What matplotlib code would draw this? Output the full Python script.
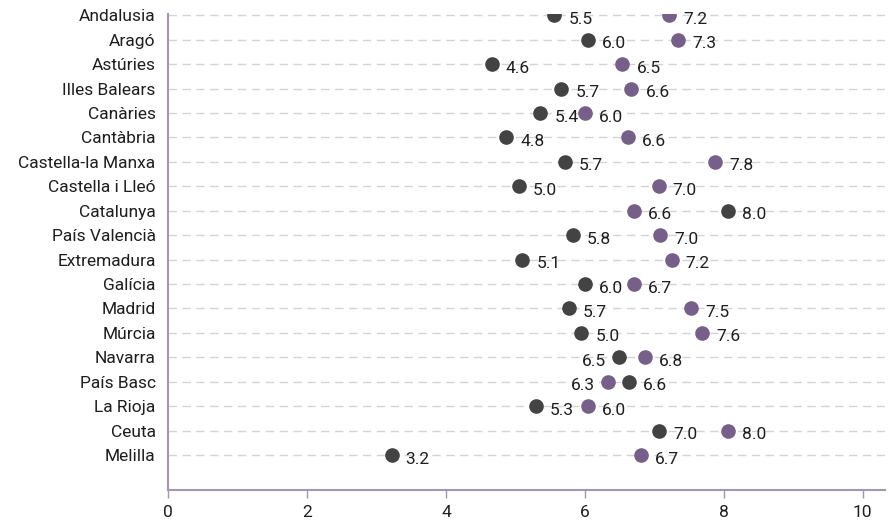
import numpy as np
import matplotlib.pyplot as plt

plt.rcParams['font.family'] = ['Roboto', 'DejaVu Sans']

regions = ["Andalusia", "Aragó", "Astúries", "Illes Balears", "Canàries",
           "Cantàbria", "Castella-la Manxa", "Castella i Lleó", "Catalunya",
           "País Valencià", "Extremadura", "Galícia", "Madrid", "Múrcia",
           "Navarra", "País Basc", "La Rioja", "Ceuta", "Melilla"]

# dark series
dark_vals = [5.56, 6.04, 4.66, 5.66, 5.36, 4.87, 5.71, 5.05, 8.06, 5.83,
             5.10, 6.00, 5.77, 5.95, 6.49, 6.64, 5.29, 7.07, 3.22]
dark_labels = ["5.5", "6.0", "4.6", "5.7", "5.4", "4.8", "5.7", "5.0", "8.0", "5.8",
               "5.1", "6.0", "5.7", "5.0", "6.5", "6.6", "5.3", "7.0", "3.2"]

# purple series
purple_vals = [7.21, 7.34, 6.54, 6.67, 6.00, 6.62, 7.88, 7.06, 6.70, 7.08,
               7.25, 6.71, 7.53, 7.69, 6.87, 6.33, 6.04, 8.06, 6.81]
purple_labels = ["7.2", "7.3", "6.5", "6.6", "6.0", "6.6", "7.8", "7.0", "6.6", "7.0",
                 "7.2", "6.7", "7.5", "7.6", "6.8", "6.3", "6.0", "8.0", "6.7"]

dark_col = "#434343"
purple_col = "#76608a"
spine_col = "#a496b0"
txt_col = "#1e1e1e"

fig = plt.figure(figsize=(8.89, 5.22), dpi=100)
ax = fig.add_axes([0.189, 0.0613, 0.8065, 0.9117])

y = np.arange(len(regions))
for yy in y:
    ax.axhline(yy, color="#d4d4d4", lw=1, ls=(0, (6, 4)), zorder=0)

ax.plot(dark_vals, y, "o", color=dark_col, ms=9.5, zorder=3)
ax.plot(purple_vals, y, "o", color=purple_col, ms=9.5, zorder=3)

def put_labels(vals, labels, other):
    for v, lab, o, yy in zip(vals, labels, other, y):
        # label goes on the left when the other dot sits just to the right
        if 0 < o - v < 0.5:
            ax.annotate(lab, (v, yy), xytext=(-13, -4), textcoords="offset pixels",
                        ha="right", va="center", fontsize=12.5, color=txt_col, zorder=4)
        else:
            ax.annotate(lab, (v, yy), xytext=(14, -4), textcoords="offset pixels",
                        ha="left", va="center", fontsize=12.5, color=txt_col, zorder=4)

put_labels(dark_vals, dark_labels, purple_vals)
put_labels(purple_vals, purple_labels, dark_vals)

ax.set_xlim(0, 10.32)
ax.set_ylim(19.43, -0.05)
ax.set_xticks([0, 2, 4, 6, 8, 10])
ax.set_yticks(y)
ax.set_yticklabels(regions)

for s in ["top", "right"]:
    ax.spines[s].set_visible(False)
for s in ["left", "bottom"]:
    ax.spines[s].set_color(spine_col)
    ax.spines[s].set_linewidth(1.5)

ax.tick_params(axis="y", length=0, pad=9, labelsize=12.5, labelcolor=txt_col)
ax.tick_params(axis="x", length=6, width=1, color=spine_col, pad=5,
               labelsize=12.5, labelcolor=txt_col)

fig.savefig("out.png", dpi=100)
